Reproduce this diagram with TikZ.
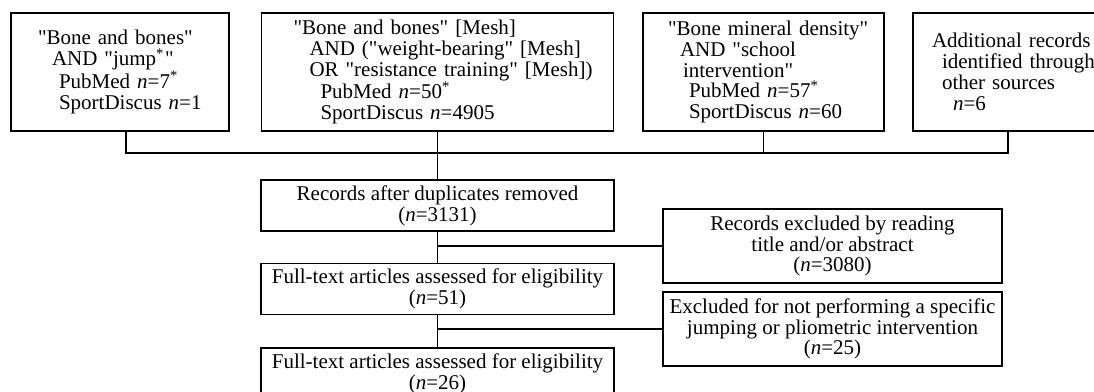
\documentclass[tikz,border=0pt]{standalone}
\usepackage{fontspec}
\setmainfont{Liberation Serif}[Ligatures=TeXOff]
\usepackage{tikz}
\usetikzlibrary{positioning}
\setlength{\parindent}{0pt}

\begin{document}
\begin{tikzpicture}[x=1pt, y=-1pt, font=\fontsize{21}{20.8}\selectfont]
% Setup the styles for the boxes and the lines
\tikzset{query box/.style={draw,
		line width=1.5pt,
		inner sep=0pt,
		align=left,
		minimum height=118pt},
	flow box/.style={draw,
		line width=1.5pt,
		inner sep=0pt,
		align=center,
		minimum width=353pt,
		minimum height=51pt},
	side box/.style={draw,
		line width=1.5pt,
		inner sep=0pt,
		align=center,
		minimum width=339pt,
		minimum height=74pt},
	link/.style={line width=1.5pt}}
\useasboundingbox (0, 0) rectangle (1094, 391);
\clip (0, 0) rectangle (1094, 391);

% Draw the search boxes
\node[query box, text width=218pt] at (120, 72)    (Q1) {\hspace*{27pt}"Bone and bones"\\
	\hspace*{41pt}AND "jump\textsuperscript{*}\kern1pt"\\
	\hspace*{48pt}PubMed \textit{n}=7\textsuperscript{*}\\
	\hspace*{48pt}SportDiscus \textit{n}=1};
\node[query box, text width=352pt] at (437.5, 72)  (Q2) {\hspace*{32pt}"Bone and bones" [Mesh]\\
	\hspace*{48pt}AND ("weight-bearing" [Mesh]\\
	\hspace*{48pt}OR "resistance training" [Mesh])\\
	\hspace*{59pt}PubMed \textit{n}=50\textsuperscript{*}\\
	\hspace*{59pt}SportDiscus \textit{n}=4905};
\node[query box, text width=241pt] at (763.5, 72)  (Q3) {\hspace*{25pt}"Bone mineral density"\\
	\hspace*{37pt}AND "school\\
	\hspace*{40pt}intervention"\\
	\hspace*{46pt}PubMed \textit{n}=57\textsuperscript{*}\\
	\hspace*{46pt}SportDiscus \textit{n}=60};
\node[query box, text width=190pt] at (1008, 72)   (Q4) {\hspace*{19pt}Additional records\\
	\hspace*{29pt}identified through\\
	\hspace*{29pt}other sources\\
	\hspace*{40pt}\textit{n}=6};

% Draw the flow boxes
\node[flow box] at (437.5, 205.5) (D1) {Records after duplicates removed\\(\textit{n}=3131)};
\node[flow box, below=31pt of D1] (E1) {Full-text articles assessed for eligibility\\(\textit{n}=51)};
\node[flow box, below=32pt of E1] (E2) {Full-text articles assessed for eligibility\\(\textit{n}=26)};
\node[side box] at (832.5, 246) (X1) {Records excluded by reading\\title and/or abstract\\(\textit{n}=3080)};
\node[side box] at (832.5, 329) (X2) {Excluded for not performing a specific\\jumping or pliometric intervention\\(\textit{n}=25)};

% Connect the boxes
\coordinate (bus) at (0, 153);
\draw[link] ([xshift=6pt]Q1.south) |- (Q4.south |- bus) -- (Q4.south);
\draw[link] (Q3.south) -- (Q3.south |- bus);
\draw[link] (Q2.south) -- (D1.north);
\draw[link] (D1) -- (E1) -- (E2);
\draw[link] (D1.south |- X1.west) -- (X1.west);
\draw[link] (E1.south |- X2.west) -- (X2.west);
\end{tikzpicture}
\end{document}
